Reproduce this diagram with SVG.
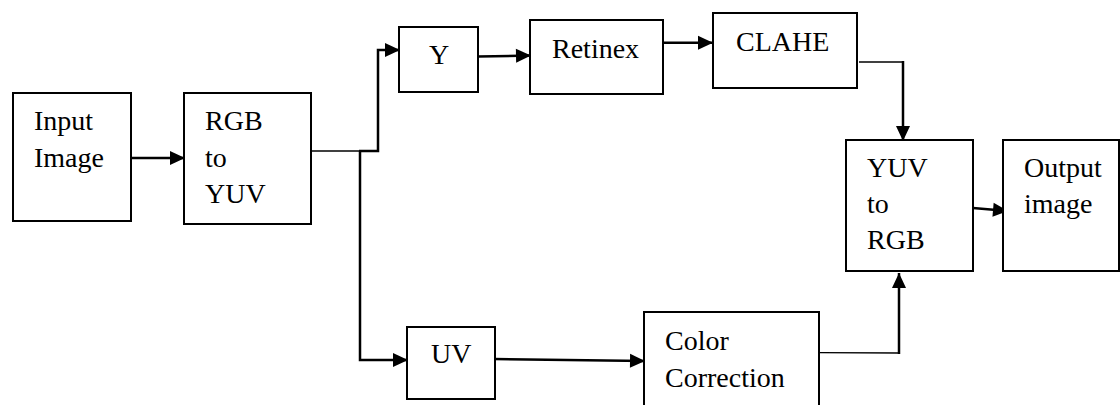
<svg xmlns="http://www.w3.org/2000/svg" width="1120" height="405" viewBox="0 0 1120 405">
  <style>
    .box { fill: #fff; stroke: #000; stroke-width: 2; }
    .lbl { font-size: 28px; fill: #000; }
    .c { fill: none; stroke: #000; stroke-width: 2.5; }
    .t { fill: none; stroke: #000; stroke-width: 1.3; }
  </style>
  <defs>
    <marker id="ah" markerUnits="userSpaceOnUse" markerWidth="17" markerHeight="17" viewBox="0 0 17 17" refX="16" refY="8.5" orient="auto">
      <path d="M1,1.5 L16,8.5 L1,15.5 Z" fill="#000"/>
    </marker>
  </defs>
  <rect width="1120" height="405" fill="#fff"/>

  <g id="connectors">
    <line class="c" x1="131" y1="158" x2="185" y2="158" marker-end="url(#ah)"/>
    <line class="t" x1="311" y1="151" x2="360" y2="151"/>
    <polyline class="c" points="359,151 378,151 378,50 400,50" marker-end="url(#ah)"/>
    <polyline class="c" points="360,151 360,360 408,360" marker-end="url(#ah)"/>
    <line class="c" x1="478" y1="56.5" x2="531" y2="55.5" marker-end="url(#ah)"/>
    <line class="c" x1="663" y1="42.7" x2="713" y2="42.7" marker-end="url(#ah)"/>
    <polyline class="t" points="859,62 903,62"/>
    <line class="c" x1="903" y1="61" x2="903" y2="141" marker-end="url(#ah)"/>
    <line class="c" x1="494" y1="359" x2="645" y2="361" marker-end="url(#ah)"/>
    <polyline class="t" points="819,352.7 899,353"/>
    <line class="c" x1="899" y1="354" x2="899" y2="273" marker-end="url(#ah)"/>
    <line class="c" x1="973" y1="208" x2="1008" y2="211" marker-end="url(#ah)"/>
  </g>

  <g font-family="Liberation Serif, serif">
  <g id="input-image">
    <rect class="box" x="13" y="93" width="118" height="128"/>
    <text class="lbl" x="34" y="130">Input</text>
    <text class="lbl" x="34" y="167">Image</text>
  </g>
  <g id="rgb-to-yuv">
    <rect class="box" x="184" y="93" width="127" height="131"/>
    <text class="lbl" x="205" y="130">RGB</text>
    <text class="lbl" x="205" y="167">to</text>
    <text class="lbl" x="205" y="203">YUV</text>
  </g>
  <g id="y">
    <rect class="box" x="399" y="27" width="79" height="65"/>
    <text class="lbl" x="429" y="64">Y</text>
  </g>
  <g id="retinex">
    <rect class="box" x="530" y="20" width="133" height="74"/>
    <text class="lbl" x="552" y="58">Retinex</text>
  </g>
  <g id="clahe">
    <rect class="box" x="713" y="13" width="144" height="75"/>
    <text class="lbl" x="736" y="51">CLAHE</text>
  </g>
  <g id="uv">
    <rect class="box" x="407" y="327" width="88" height="72"/>
    <text class="lbl" x="431" y="363">UV</text>
  </g>
  <g id="color-correction">
    <rect class="box" x="644" y="312" width="175" height="100"/>
    <text class="lbl" x="665" y="350">Color</text>
    <text class="lbl" x="665" y="387">Correction</text>
  </g>
  <g id="yuv-to-rgb">
    <rect class="box" x="846" y="140" width="127" height="131"/>
    <text class="lbl" x="867" y="177">YUV</text>
    <text class="lbl" x="867" y="213">to</text>
    <text class="lbl" x="867" y="249">RGB</text>
  </g>
  <g id="output-image">
    <rect class="box" x="1003" y="140" width="116" height="131"/>
    <text class="lbl" x="1024" y="177">Output</text>
    <text class="lbl" x="1024" y="213">image</text>
  </g>
  </g>
</svg>
